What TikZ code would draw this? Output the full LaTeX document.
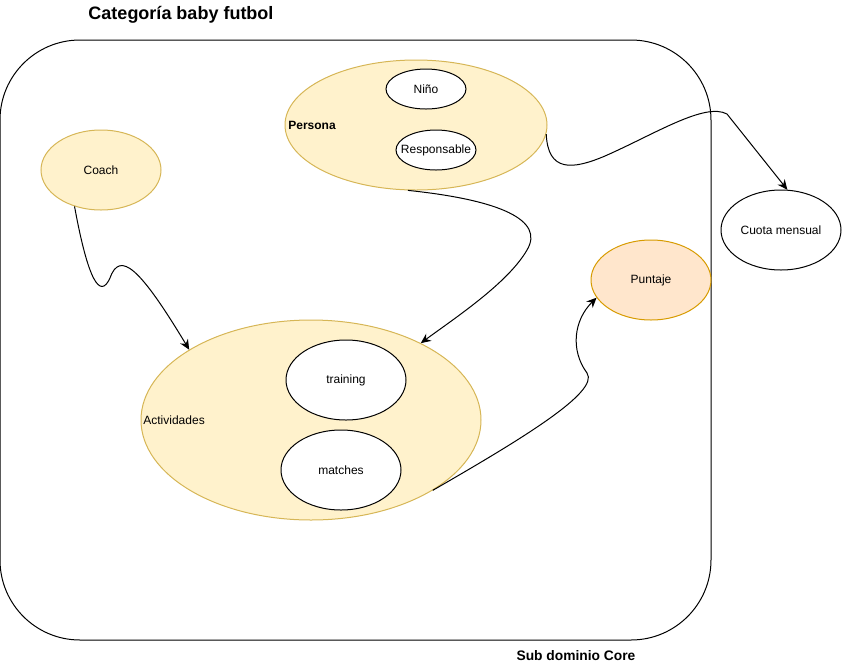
\documentclass[tikz,border=0pt]{standalone}
\usepackage{fontspec}
\setmainfont{Liberation Sans}
\usetikzlibrary{arrows.meta,shapes.geometric}
\definecolor{yfill}{HTML}{FFF2CC}
\definecolor{ydraw}{HTML}{D6B656}
\definecolor{ofill}{HTML}{FFE6CC}
\definecolor{odraw}{HTML}{D79B00}
\tikzset{
	yellowell/.style={ellipse, draw=ydraw, fill=yfill, line width=0.5pt, inner sep=0pt},
	whiteell/.style={ellipse, draw=black, fill=white, line width=0.5pt, inner sep=0pt},
	orangeell/.style={ellipse, draw=odraw, fill=ofill, line width=0.5pt, inner sep=0pt},
	conn/.style={line width=0.5pt, -{Stealth[length=5pt,width=4.5pt]}},
	txt/.style={font=\fontsize{6}{7}\selectfont, inner sep=0pt},
}
\begin{document}
\begin{tikzpicture}[x=0.5pt, y=-0.5pt]
		%%%%% START %%%%%
		\useasboundingbox (0, 0) rectangle (842, 671);
		
		\draw[line width=0.5pt, rounded corners=40pt] (0, 40) rectangle (711, 640);
		\node[font=\bfseries\fontsize{9}{10}\selectfont] (title) at (181, 15) {Categoría baby futbol};
		\node[txt, font=\bfseries\fontsize{6.9}{8}\selectfont] (core) at (576, 656) {Sub dominio Core};
		
		\node[yellowell, minimum width=131pt, minimum height=65pt] (persona) at (416, 125) {};
		\node[txt, font=\bfseries\fontsize{6}{7}\selectfont, anchor=west] (personalbl) at (288, 125) {Persona};
		\node[whiteell, txt, minimum width=40pt, minimum height=20pt] (nino) at (426, 89) {Niño};
		\node[whiteell, minimum width=40pt, minimum height=20pt,
			label={[txt]center:Responsable}] (resp) at (436, 150) {};
		
		\node[yellowell, txt, minimum width=60pt, minimum height=40pt] (coach) at (101, 170) {Coach};
		\node[whiteell, txt, minimum width=60pt, minimum height=40pt] (cuota) at (781, 230) {Cuota mensual};
		\node[orangeell, txt, minimum width=60pt, minimum height=40pt] (puntaje) at (651, 280) {Puntaje};
		
		\node[yellowell, minimum width=170pt, minimum height=100pt] (act) at (311, 420) {};
		\node[txt, anchor=west] (actlbl) at (143, 420) {Actividades};
		\node[whiteell, txt, minimum width=60pt, minimum height=40pt] (training) at (346, 380) {training};
		\node[whiteell, txt, minimum width=60pt, minimum height=40pt] (matches) at (341, 470) {matches};
		
		% connectors
		\draw[conn] (coach.-126) .. controls (88, 280) and (100, 300) .. (110, 278)
			.. controls (120, 250) and (140, 268) .. (act.150);
		\draw[conn] (persona.-97) .. controls (500, 200) and (545, 220) .. (527, 250)
			.. controls (508, 283) and (455, 318) .. (act.35);
		\draw[conn] (persona.-4) .. controls (548, 172) and (572, 170) .. (605, 156)
			.. controls (655, 134) and (705, 102) .. (727, 114) -- (cuota.81);
		\draw[conn] (act.-30) .. controls (520, 440) and (600, 392) .. (587, 373)
			.. controls (570, 350) and (574, 320) .. (puntaje.-162);
		
		%%%%% END %%%%%
	\end{tikzpicture}
\end{document}
